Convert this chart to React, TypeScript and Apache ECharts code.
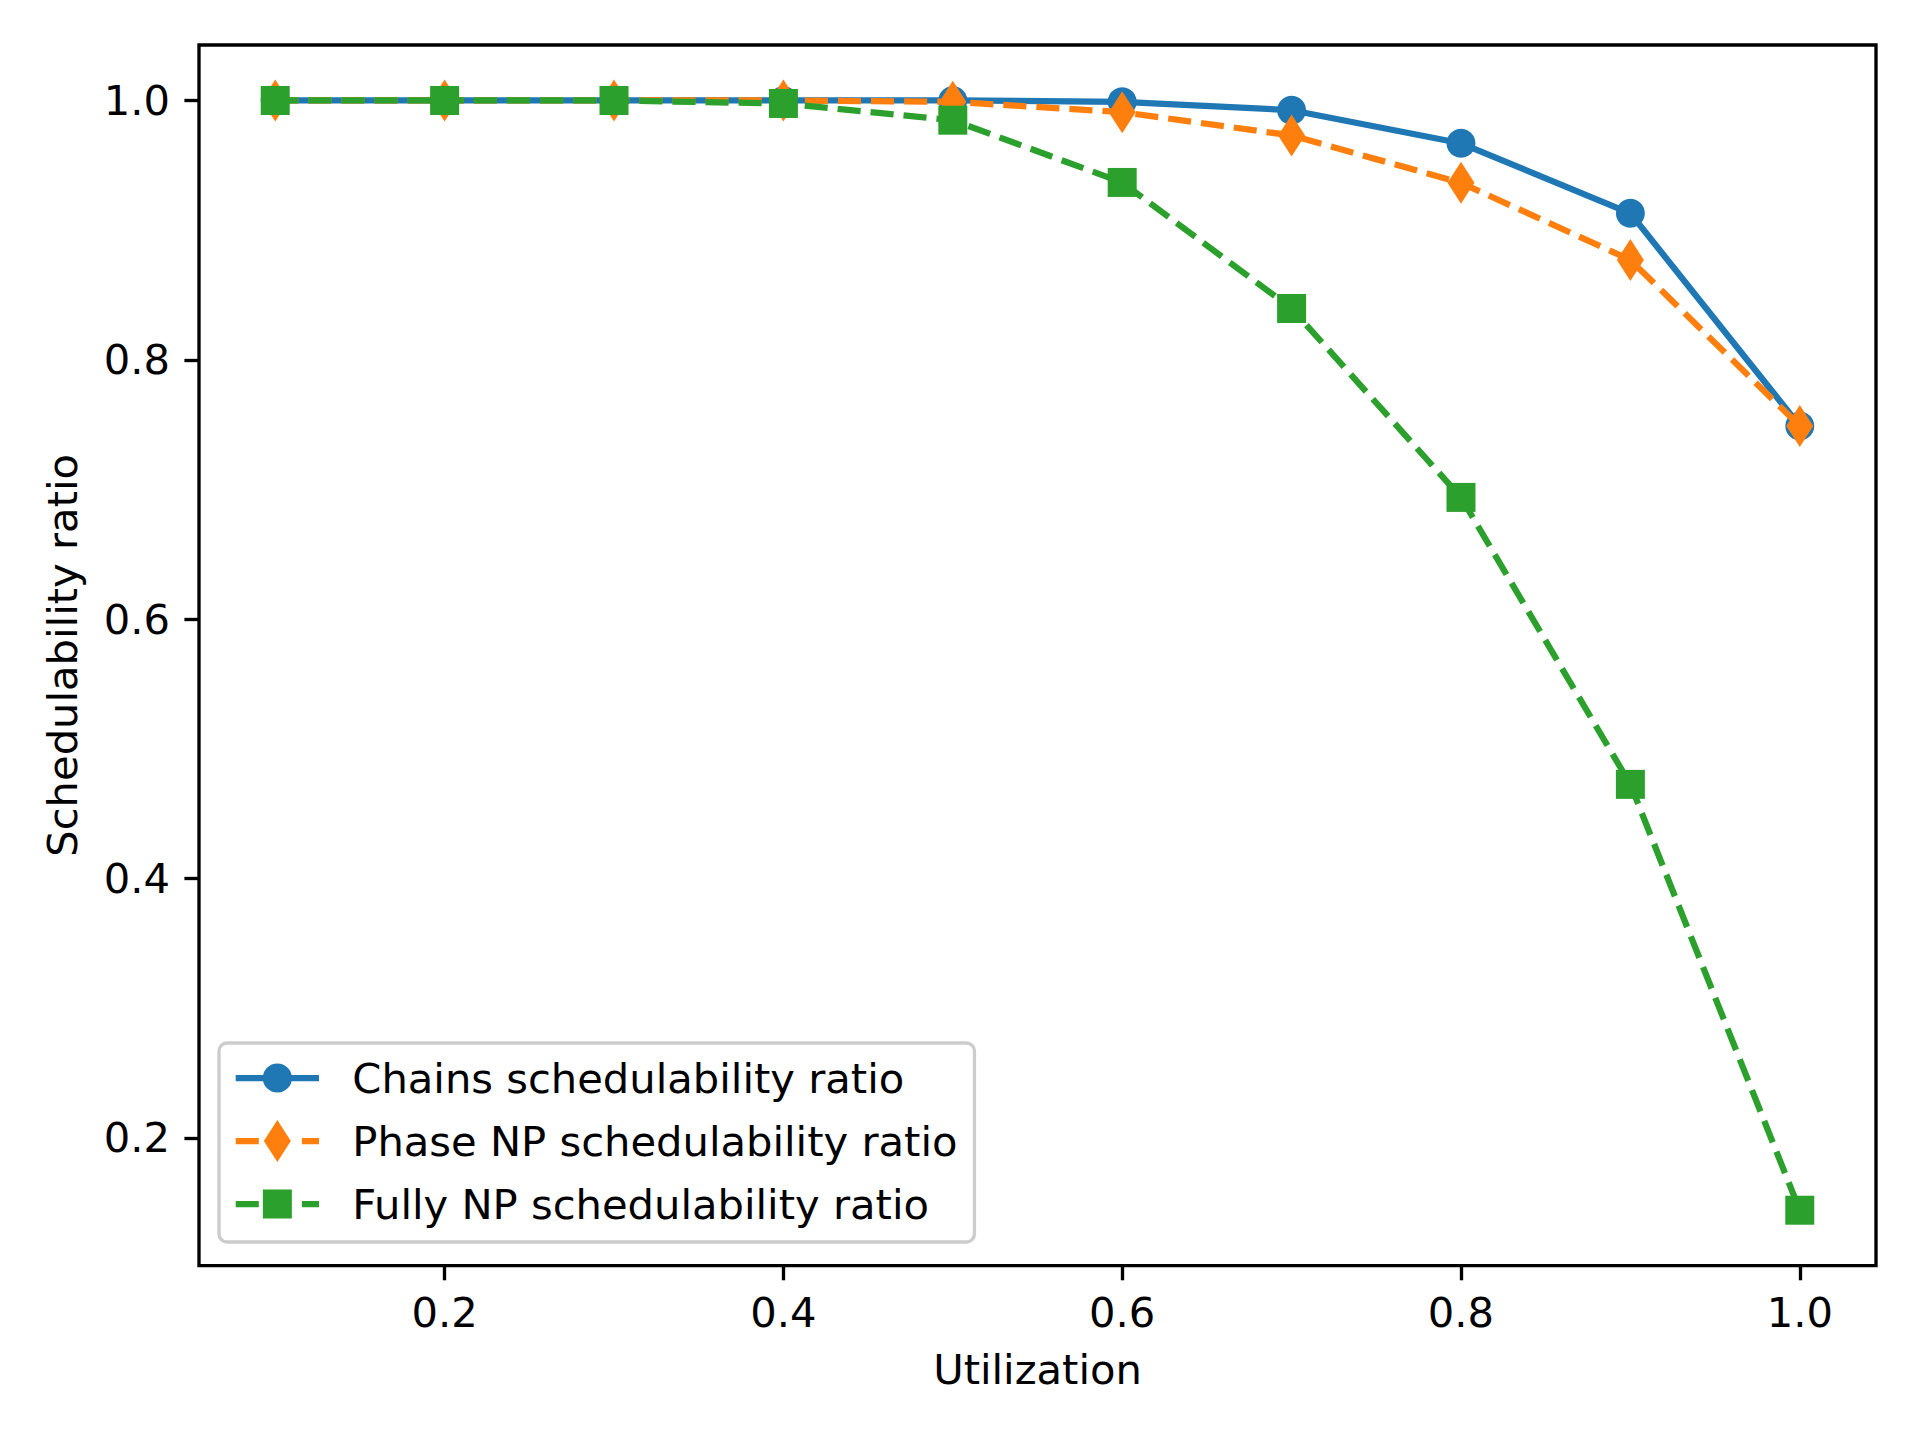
import React, { useEffect, useRef } from "react";
import * as echarts from "echarts";

const utilization = [0.1, 0.2, 0.3, 0.4, 0.5, 0.6, 0.7, 0.8, 0.9, 1.0];
const chainsRatio = [1.0, 1.0, 1.0, 1.0, 1.0, 0.999, 0.9925, 0.967, 0.913, 0.749];
const phaseNPRatio = [1.0, 1.0, 1.0, 1.0, 0.999, 0.991, 0.973, 0.9365, 0.877, 0.749];
const fullyNPRatio = [1.0, 1.0, 1.0, 0.9977, 0.9848, 0.9368, 0.8396, 0.6939, 0.4726, 0.1442];
const tickValues = [0.2, 0.4, 0.6, 0.8, 1.0];
const seriesNames = [
  "Chains schedulability ratio",
  "Phase NP schedulability ratio",
  "Fully NP schedulability ratio",
];
const colors = ["#1f77b4", "#ff7f0e", "#2ca02c"];

const FONT = "DejaVu Sans";
const FS = 41.67;

// legend icons (83.3 x 42 box)
const anchors = "M0 0 L0.01 0 L0 0.01 Z M83.3 42 L83.29 42 L83.3 41.99 Z ";
const iconCircle =
  anchors +
  "M0 17.875 L27.4 17.875 L27.4 24.125 L0 24.125 Z " +
  "M55.9 17.875 L83.3 17.875 L83.3 24.125 L55.9 24.125 Z " +
  "M27.05 21 A14.6 14.6 0 1 1 56.25 21 A14.6 14.6 0 1 1 27.05 21 Z";
const dashes =
  "M0 17.875 L23.1 17.875 L23.1 24.125 L0 24.125 Z " +
  "M66.2 17.875 L83.3 17.875 L83.3 24.125 L66.2 24.125 Z ";
const iconDiamond = anchors + dashes + "M41.65 0 L55.15 21 L41.65 42 L28.15 21 Z";
const iconSquare = anchors + dashes + "M27.15 6.5 L56.15 6.5 L56.15 35.5 L27.15 35.5 Z";

function pairs(ys: number[]) {
  return utilization.map((x, i) => [x, ys[i]]);
}

export default function App() {
  const ref = useRef<HTMLDivElement>(null);
  useEffect(() => {
    if (!ref.current) return;
    const chart = echarts.init(ref.current, null, { renderer: "svg" });
    const allY = [...chainsRatio, ...phaseNPRatio, ...fullyNPRatio];
    const yMinD = Math.min(...allY);
    const yMaxD = Math.max(...allY);
    const yR = yMaxD - yMinD;
    const xMinD = Math.min(...utilization);
    const xMaxD = Math.max(...utilization);
    const xR = xMaxD - xMinD;

    const axisCommon = {
      axisLine: { show: false },
      splitLine: { show: false },
      axisTick: {
        show: true,
        inside: false,
        length: 14.6,
        lineStyle: { color: "#000", width: 3.33 },
        customValues: tickValues,
      },
      axisLabel: {
        color: "#000",
        fontFamily: FONT,
        fontSize: FS,
        customValues: tickValues,
        formatter: (v: number) => v.toFixed(1),
      },
      nameTextStyle: { color: "#000", fontFamily: FONT, fontSize: FS },
    };

    const symbols = ["circle", "diamond", "rect"];
    const symbolSizes: any[] = [29, [27, 42], 29];
    const lineTypes: any[] = ["solid", [23.1, 10], [23.1, 10]];
    const datasets = [chainsRatio, phaseNPRatio, fullyNPRatio];

    chart.setOption({
      animation: false,
      grid: {
        left: 199,
        top: 45,
        right: 44,
        bottom: 174.3,
        show: true,
        borderColor: "#000",
        borderWidth: 3.33,
        backgroundColor: "transparent",
        containLabel: false,
        outerBoundsMode: "none",
      },
      xAxis: {
        type: "value",
        min: xMinD - 0.05 * xR,
        max: xMaxD + 0.05 * xR,
        name: "Utilization",
        nameLocation: "middle",
        nameGap: 83,
        ...axisCommon,
        axisLabel: { ...axisCommon.axisLabel, margin: 26 },
      },
      yAxis: {
        type: "value",
        min: yMinD - 0.05 * yR,
        max: yMaxD + 0.05 * yR,
        name: "Schedulability ratio",
        nameLocation: "middle",
        nameRotate: 90,
        nameGap: 116,
        ...axisCommon,
        axisLabel: { ...axisCommon.axisLabel, margin: 29 },
      },
      legend: {
        left: 219,
        top: 1043,
        orient: "vertical",
        selectedMode: false,
        itemWidth: 83.3,
        itemHeight: 42,
        itemGap: 21,
        padding: [14, 17, 17, 16.7],
        backgroundColor: "rgba(255,255,255,0.8)",
        borderColor: "#cccccc",
        borderWidth: 3.3,
        borderRadius: 8,
        itemStyle: { borderWidth: 0 },
        textStyle: {
          color: "#000",
          fontFamily: FONT,
          fontSize: FS,
          lineHeight: 42,
          padding: [0, 0, 0, 28.3],
        },
        data: [
          { name: seriesNames[0], icon: "path://" + iconCircle },
          { name: seriesNames[1], icon: "path://" + iconDiamond },
          { name: seriesNames[2], icon: "path://" + iconSquare },
        ],
      },
      series: datasets.map((ys, i) => ({
        name: seriesNames[i],
        type: "line",
        data: pairs(ys),
        symbol: symbols[i],
        symbolSize: symbolSizes[i],
        showSymbol: true,
        showAllSymbol: true,
        clip: false,
        lineStyle: { color: colors[i], width: 6.25, type: lineTypes[i], cap: "butt" },
        itemStyle: { color: colors[i], borderWidth: 0 },
        emphasis: { disabled: true },
        z: 2 + i,
      })),
    });
    return () => chart.dispose();
  }, []);
  return (
    <div
      ref={ref}
      style={{ position: "absolute", left: 0, top: 0, width: 1920, height: 1440, background: "#fff" }}
    />
  );
}
